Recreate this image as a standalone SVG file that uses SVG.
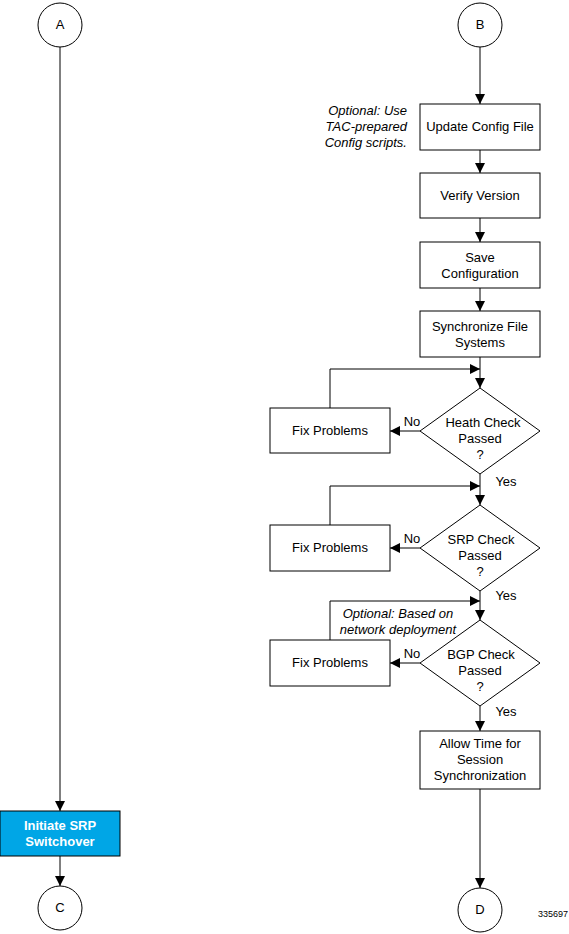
<svg xmlns="http://www.w3.org/2000/svg" width="569" height="934" viewBox="0 0 569 934">
<defs>
<marker id="ah" viewBox="0 0 10 10" refX="10" refY="5" markerWidth="10" markerHeight="10" markerUnits="userSpaceOnUse" orient="auto">
<path d="M0,0 L10,5 L0,10 Z" fill="#000"/>
</marker>
<style>
.n{fill:#fff;stroke:#000;stroke-width:1}
.t{font-family:"Liberation Sans",Arial,sans-serif;font-size:13px;fill:#000;text-anchor:middle}
.i{font-style:italic}
.c line,.c polyline{stroke:#000;stroke-width:1;fill:none;marker-end:url(#ah)}
</style>
</defs>
<rect width="569" height="934" fill="#fff"/>
<g class="c">
<line x1="60" y1="47" x2="60" y2="811"/>
<line x1="60" y1="856" x2="60" y2="886"/>
<line x1="480" y1="47" x2="480" y2="104"/>
<line x1="480" y1="150" x2="480" y2="173"/>
<line x1="480" y1="218" x2="480" y2="242"/>
<line x1="480" y1="288" x2="480" y2="311"/>
<line x1="480" y1="357" x2="480" y2="388"/>
<line x1="420" y1="431" x2="390" y2="431"/>
<polyline points="330,408 330,369 480,369"/>
<line x1="480" y1="474" x2="480" y2="505"/>
<line x1="420" y1="548" x2="390" y2="548"/>
<polyline points="330,525 330,486 480,486"/>
<line x1="480" y1="591" x2="480" y2="620"/>
<line x1="420" y1="663" x2="390" y2="663"/>
<polyline points="330,640 330,601 480,601"/>
<line x1="480" y1="706" x2="480" y2="731"/>
<line x1="480" y1="789" x2="480" y2="888"/>
</g>
<g id="A"><circle class="n" cx="60" cy="25" r="22"/><text class="t" x="60" y="29">A</text></g>
<g id="B"><circle class="n" cx="480" cy="25" r="22"/><text class="t" x="480" y="29">B</text></g>
<g id="C"><circle class="n" cx="60" cy="908" r="22"/><text class="t" x="60" y="912">C</text></g>
<g id="D"><circle class="n" cx="480" cy="910" r="22"/><text class="t" x="480" y="914">D</text></g>
<g id="note1"><text class="t i" style="text-anchor:end" x="407" y="115">Optional: Use</text><text class="t i" style="text-anchor:end" x="407" y="131">TAC-prepared</text><text class="t i" style="text-anchor:end" x="407" y="147">Config scripts.</text></g>
<g id="update"><rect class="n" x="420" y="104" width="120" height="46"/><text class="t" x="480" y="131">Update Config File</text></g>
<g id="verify"><rect class="n" x="420" y="173" width="120" height="45"/><text class="t" x="480" y="200">Verify Version</text></g>
<g id="save"><rect class="n" x="420" y="242" width="120" height="46"/><text class="t" x="480" y="262">Save</text><text class="t" x="480" y="278">Configuration</text></g>
<g id="sync"><rect class="n" x="420" y="311" width="120" height="46"/><text class="t" x="480" y="331">Synchronize File</text><text class="t" x="480" y="347">Systems</text></g>
<g id="health"><polygon class="n" points="480,388 540,431 480,474 420,431"/><text class="t" x="483" y="427">Heath Check</text><text class="t" x="480" y="443">Passed</text><text class="t" x="480" y="459">?</text></g>
<g id="fix1"><rect class="n" x="270" y="408" width="120" height="45"/><text class="t" x="330" y="435">Fix Problems</text></g>
<g id="srp"><polygon class="n" points="480,505 540,548 480,591 420,548"/><text class="t" x="481" y="544">SRP Check</text><text class="t" x="480" y="560">Passed</text><text class="t" x="480" y="576">?</text></g>
<g id="fix2"><rect class="n" x="270" y="525" width="120" height="46"/><text class="t" x="330" y="552">Fix Problems</text></g>
<g id="bgp"><polygon class="n" points="480,620 540,663 480,706 420,663"/><text class="t" x="481" y="659">BGP Check</text><text class="t" x="480" y="675">Passed</text><text class="t" x="480" y="691">?</text></g>
<g id="fix3"><rect class="n" x="270" y="640" width="120" height="46"/><text class="t" x="330" y="667">Fix Problems</text></g>
<g id="note2"><text class="t i" x="398" y="618">Optional: Based on</text><text class="t i" x="398" y="634">network deployment</text></g>
<g id="allow"><rect class="n" x="420" y="731" width="120" height="58"/><text class="t" x="480" y="748">Allow Time for</text><text class="t" x="480" y="764">Session</text><text class="t" x="480" y="780">Synchronization</text></g>
<g id="initiate"><rect x="0" y="811" width="120" height="45" fill="#00A6E6" stroke="#000" stroke-width="1"/><text class="t" style="font-weight:bold;fill:#fff" x="60" y="830">Initiate SRP</text><text class="t" style="font-weight:bold;fill:#fff" x="60" y="846">Switchover</text></g>
<g id="labels">
<text class="t" x="412" y="426">No</text><text class="t" x="412" y="543">No</text><text class="t" x="412" y="658">No</text>
<text class="t" x="506" y="486">Yes</text><text class="t" x="506" y="600">Yes</text><text class="t" x="506" y="716">Yes</text>
<text class="t" style="font-size:9px" x="553" y="917">335697</text>
</g>
</svg>
